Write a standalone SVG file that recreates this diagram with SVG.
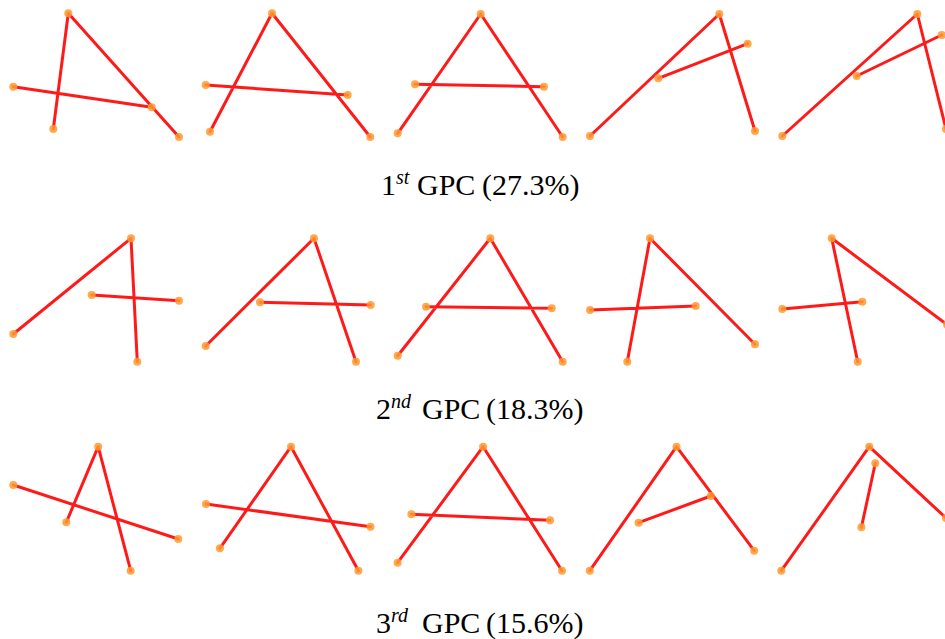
<svg xmlns="http://www.w3.org/2000/svg" width="945" height="639" viewBox="0 0 945 639">
<style>
.s{stroke:#ff1a1a;stroke-width:3;stroke-linecap:round;fill:none}
.d{fill:#ff9a30;fill-opacity:0.85}
.t{font-family:"Liberation Serif","Times New Roman",serif;font-size:30px;fill:#000}
.sup{font-style:italic;font-size:20px}
</style>
<rect width="945" height="639" fill="#fff"/>
<!-- Row 1 -->
<g id="r1p1">
<path class="s" d="M68.3,13.3L53.3,129M68.3,13.3L179,137M13.3,86.7L151.7,107.3"/>
<g class="d"><circle cx="68.3" cy="13.3" r="4"/><circle cx="53.3" cy="129" r="4"/><circle cx="179" cy="137" r="4"/><circle cx="13.3" cy="86.7" r="4"/><circle cx="151.7" cy="107.3" r="4"/></g>
</g>
<g id="r1p2">
<path class="s" d="M272,13.3L210,131.7M272,13.3L370.3,137M205.7,85L347.7,95"/>
<g class="d"><circle cx="272" cy="13.3" r="4"/><circle cx="210" cy="131.7" r="4"/><circle cx="370.3" cy="137" r="4"/><circle cx="205.7" cy="85" r="4"/><circle cx="347.7" cy="95" r="4"/></g>
</g>
<g id="r1p3">
<path class="s" d="M480.7,14L397.7,133.3M480.7,14L562.7,137M415,84.3L544,86.7"/>
<g class="d"><circle cx="480.7" cy="14" r="4"/><circle cx="397.7" cy="133.3" r="4"/><circle cx="562.7" cy="137" r="4"/><circle cx="415" cy="84.3" r="4"/><circle cx="544" cy="86.7" r="4"/></g>
</g>
<g id="r1p4">
<path class="s" d="M719.3,14L590,136M719.3,14L755,131M658.3,78.3L747.7,43.7"/>
<g class="d"><circle cx="719.3" cy="14" r="4"/><circle cx="590" cy="136" r="4"/><circle cx="755" cy="131" r="4"/><circle cx="658.3" cy="78.3" r="4"/><circle cx="747.7" cy="43.7" r="4"/></g>
</g>
<g id="r1p5">
<path class="s" d="M917.3,14L782.3,136M917.3,14L946,129M856.7,76L941.7,35"/>
<g class="d"><circle cx="917.3" cy="14" r="4"/><circle cx="782.3" cy="136" r="4"/><circle cx="946" cy="129" r="4"/><circle cx="856.7" cy="76" r="4"/><circle cx="941.7" cy="35" r="4"/></g>
</g>
<text id="cap1" class="t" y="195"><tspan x="381">1</tspan><tspan class="sup" dy="-11">st</tspan><tspan dy="11" x="417">GPC</tspan><tspan x="482">(27.3%)</tspan></text>
<!-- Row 2 -->
<g id="r2p1">
<path class="s" d="M131,238.3L13.3,334M131,238.3L137.3,361.7M91.7,295L179,300.7"/>
<g class="d"><circle cx="131" cy="238.3" r="4"/><circle cx="13.3" cy="334" r="4"/><circle cx="137.3" cy="361.7" r="4"/><circle cx="91.7" cy="295" r="4"/><circle cx="179" cy="300.7" r="4"/></g>
</g>
<g id="r2p2">
<path class="s" d="M314,238.3L205.7,346M314,238.3L356,361.7M260,302.3L370.7,305"/>
<g class="d"><circle cx="314" cy="238.3" r="4"/><circle cx="205.7" cy="346" r="4"/><circle cx="356" cy="361.7" r="4"/><circle cx="260" cy="302.3" r="4"/><circle cx="370.7" cy="305" r="4"/></g>
</g>
<g id="r2p3">
<path class="s" d="M490.3,238.3L397.7,355.7M490.3,238.3L562.7,361.7M426,306.7L551.7,308.3"/>
<g class="d"><circle cx="490.3" cy="238.3" r="4"/><circle cx="397.7" cy="355.7" r="4"/><circle cx="562.7" cy="361.7" r="4"/><circle cx="426" cy="306.7" r="4"/><circle cx="551.7" cy="308.3" r="4"/></g>
</g>
<g id="r2p4">
<path class="s" d="M650,238.3L627.3,361.7M650,238.3L755,344.3M590,310L695.7,306"/>
<g class="d"><circle cx="650" cy="238.3" r="4"/><circle cx="627.3" cy="361.7" r="4"/><circle cx="755" cy="344.3" r="4"/><circle cx="590" cy="310" r="4"/><circle cx="695.7" cy="306" r="4"/></g>
</g>
<g id="r2p5">
<path class="s" d="M831.7,238.3L857.7,361.7M831.7,238.3L947,324.5M782.3,309L862.3,301.7"/>
<g class="d"><circle cx="831.7" cy="238.3" r="4"/><circle cx="857.7" cy="361.7" r="4"/><circle cx="947" cy="324.5" r="4"/><circle cx="782.3" cy="309" r="4"/><circle cx="862.3" cy="301.7" r="4"/></g>
</g>
<text id="cap2" class="t" y="419"><tspan x="376">2</tspan><tspan class="sup" dy="-11">nd</tspan><tspan dy="11" x="422">GPC</tspan><tspan x="486">(18.3%)</tspan></text>
<!-- Row 3 -->
<g id="r3p1">
<path class="s" d="M98.2,446.7L66.3,522.3M98.2,446.7L130.7,570.7M13.3,485L178.3,539"/>
<g class="d"><circle cx="98.2" cy="446.7" r="4"/><circle cx="66.3" cy="522.3" r="4"/><circle cx="130.7" cy="570.7" r="4"/><circle cx="13.3" cy="485" r="4"/><circle cx="178.3" cy="539" r="4"/></g>
</g>
<g id="r3p2">
<path class="s" d="M291,446.7L219.9,548.3M291,446.7L358.4,570.7M206,504L370.5,526.7"/>
<g class="d"><circle cx="291" cy="446.7" r="4"/><circle cx="219.9" cy="548.3" r="4"/><circle cx="358.4" cy="570.7" r="4"/><circle cx="206" cy="504" r="4"/><circle cx="370.5" cy="526.7" r="4"/></g>
</g>
<g id="r3p3">
<path class="s" d="M483.1,446.7L397.6,562.7M483.1,446.7L562,570.7M411.4,514.3L550,520.3"/>
<g class="d"><circle cx="483.1" cy="446.7" r="4"/><circle cx="397.6" cy="562.7" r="4"/><circle cx="562" cy="570.7" r="4"/><circle cx="411.4" cy="514.3" r="4"/><circle cx="550" cy="520.3" r="4"/></g>
</g>
<g id="r3p4">
<path class="s" d="M676.5,446.7L589.8,570.7M676.5,446.7L754.2,550.7M638.6,522.7L710.8,496"/>
<g class="d"><circle cx="676.5" cy="446.7" r="4"/><circle cx="589.8" cy="570.7" r="4"/><circle cx="754.2" cy="550.7" r="4"/><circle cx="638.6" cy="522.7" r="4"/><circle cx="710.8" cy="496" r="4"/></g>
</g>
<g id="r3p5">
<path class="s" d="M869.3,446.7L781.3,570.7M869.3,446.7L946,518M875.3,463.3L861.4,527.3"/>
<g class="d"><circle cx="869.3" cy="446.7" r="4"/><circle cx="781.3" cy="570.7" r="4"/><circle cx="946" cy="518" r="4"/><circle cx="875.3" cy="463.3" r="4"/><circle cx="861.4" cy="527.3" r="4"/></g>
</g>
<text id="cap3" class="t" y="633"><tspan x="376">3</tspan><tspan class="sup" dy="-11">rd</tspan><tspan dy="11" x="422">GPC</tspan><tspan x="486">(15.6%)</tspan></text>
</svg>
